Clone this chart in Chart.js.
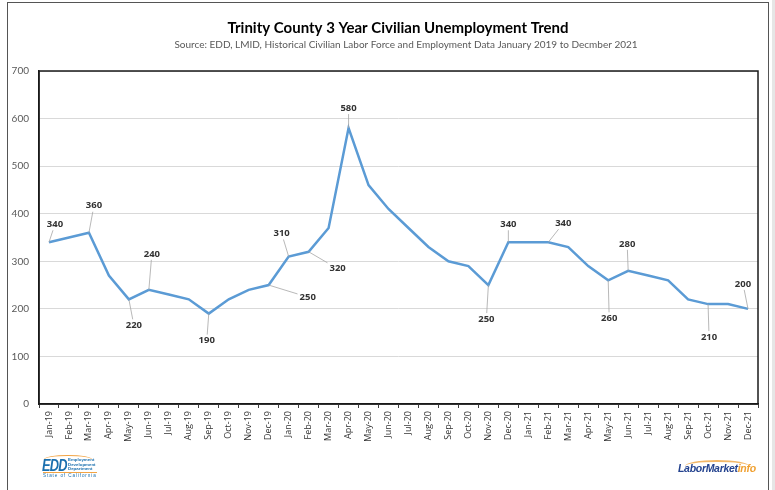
<!DOCTYPE html>
<html>
<head>
<meta charset="utf-8">
<script src="https://cdn.jsdelivr.net/npm/chart.js@4.4.1/dist/chart.umd.min.js"></script>
<style>
  html, body { margin: 0; padding: 0; background: #fff; }
  #wrap { position: absolute; left: 0; top: 0; width: 775px; height: 490px; }
  .frame { position: absolute; left: 7px; top: 2px; width: 762px; height: 520px;
           border: 1.5px solid #555; box-sizing: border-box; pointer-events: none; }
  .side { position: absolute; left: 772px; top: 0; width: 3px; height: 490px; background: #e6e6e6; }
  .edd { position: absolute; left: 42px; top: 453px; width: 56px; height: 26px; }
  .edd .big { position: absolute; left: 0; top: 4px; font: italic bold 16px "Liberation Sans", sans-serif;
              color: #1a6fae; letter-spacing: -1px; transform: scaleX(0.8); transform-origin: left top; }
  .edd .swoosh { position: absolute; left: 2px; top: 2px; width: 48px; height: 8px;
                 border-top: 1.5px solid #f2a444; border-radius: 50%; }
  .edd .small { position: absolute; left: 26px; top: 5px; font: bold 4.4px "Liberation Sans", sans-serif;
                color: #1a6fae; line-height: 4.6px; }
  .edd .state { position: absolute; left: 1px; top: 19px; font: 4.6px "Liberation Sans", sans-serif;
                color: #1a6fae; letter-spacing: 0.9px; border-top: 0.8px solid #f2a444; white-space: nowrap; }
  .lmi { position: absolute; left: 677px; top: 459px; width: 80px; height: 16px; }
  .lmi .arc { position: absolute; left: 8px; top: 1px; width: 64px; height: 10px;
              border-top: 2px solid #f3b766; border-radius: 50%; }
  .lmi .txt { position: absolute; left: 1px; top: 3px; font: italic bold 10.5px "Liberation Sans", sans-serif;
              color: #24438f; letter-spacing: -0.3px; white-space: nowrap; }
  .lmi .txt span { color: #f0a030; }
</style>
</head>
<body>
<div id="wrap"><canvas id="chart"></canvas></div>
<div class="side"></div>
<div class="frame"></div>
<div class="edd">
  <div class="swoosh"></div>
  <div class="big">EDD</div>
  <div class="small">Employment<br>Development<br>Department</div>
  <div class="state">State of California</div>
</div>
<div class="lmi"><div class="arc"></div><div class="txt">LaborMarket<span>info</span></div></div>
<script>
// Trinity County civilian unemployment, Jan 2019 - Dec 2021

const titleText = 'Trinity County 3 Year Civilian Unemployment Trend';
const subtitleText = 'Source: EDD, LMID, Historical Civilian Labor Force and Employment Data January 2019 to Decmber 2021';

const months = [
  'Jan-19', 'Feb-19', 'Mar-19', 'Apr-19', 'May-19', 'Jun-19', 'Jul-19', 'Aug-19', 'Sep-19', 'Oct-19', 'Nov-19', 'Dec-19',
  'Jan-20', 'Feb-20', 'Mar-20', 'Apr-20', 'May-20', 'Jun-20', 'Jul-20', 'Aug-20', 'Sep-20', 'Oct-20', 'Nov-20', 'Dec-20',
  'Jan-21', 'Feb-21', 'Mar-21', 'Apr-21', 'May-21', 'Jun-21', 'Jul-21', 'Aug-21', 'Sep-21', 'Oct-21', 'Nov-21', 'Dec-21',
];

const unemployed = [
  340, 350, 360, 270, 220, 240, 230, 220, 190, 220, 240, 250,
  310, 320, 370, 580, 460, 410, 370, 330, 300, 290, 250, 340,
  340, 340, 330, 290, 260, 280, 270, 260, 220, 210, 210, 200,
];

const yTicks = [0, 100, 200, 300, 400, 500, 600, 700];

// which points get a value label, and where the label sits (px from the point)
const labelOffsets = {
  0: [6, -18], 2: [5, -27], 4: [5, 26], 5: [3, -36], 8: [-2, 27], 11: [39, 12],
  12: [-7, -23], 13: [29, 17], 15: [0, -20], 22: [-2, 34], 23: [0, -18], 25: [15, -19],
  28: [1, 38], 29: [-1, -27], 33: [1, 33], 35: [-5, -25],
};

const FONT = 'Lato, "Open Sans", sans-serif';

const headings = {
  id: 'headings',
  afterDraw(chart) {
    const ctx = chart.ctx;
    ctx.save();
    ctx.textAlign = 'center';
    ctx.textBaseline = 'middle';
    ctx.fillStyle = '#000';
    ctx.font = 'bold 15px ' + FONT;
    ctx.fillText(titleText, 398, 28);
    ctx.fillStyle = '#595959';
    ctx.font = '10px ' + FONT;
    ctx.fillText(subtitleText, 406, 45);
    ctx.restore();
  },
};

const plotFrame = {
  id: 'plotFrame',
  beforeDatasetsDraw(chart) {
    const a = chart.chartArea;
    const ctx = chart.ctx;
    ctx.save();
    ctx.strokeStyle = '#1a1a1a';
    ctx.lineWidth = 1.5;
    ctx.strokeRect(a.left, a.top, a.right - a.left, a.bottom - a.top);
    ctx.restore();
  },
};

const valueLabels = {
  id: 'valueLabels',
  afterDatasetsDraw(chart) {
    const ctx = chart.ctx;
    const meta = chart.getDatasetMeta(0);
    ctx.save();
    ctx.font = 'bold 9.5px "Open Sans", sans-serif';
    ctx.textAlign = 'center';
    ctx.textBaseline = 'middle';
    Object.keys(labelOffsets).forEach((k) => {
      const i = Number(k);
      const pt = meta.data[i];
      if (!pt) return;
      const [ox, oy] = labelOffsets[k];
      const cx = pt.x + ox, cy = pt.y + oy;
      const txt = String(unemployed[i]);
      const hw = ctx.measureText(txt).width / 2 + 2;
      const hh = 6;
      const dx = cx - pt.x, dy = cy - pt.y;
      const tx = dx === 0 ? Infinity : hw / Math.abs(dx);
      const ty = dy === 0 ? Infinity : hh / Math.abs(dy);
      const t = Math.min(tx, ty, 1);
      ctx.strokeStyle = '#a6a6a6';
      ctx.lineWidth = 0.8;
      ctx.beginPath();
      ctx.moveTo(pt.x, pt.y);
      ctx.lineTo(cx - dx * t, cy - dy * t);
      ctx.stroke();
      ctx.fillStyle = '#333';
      ctx.fillText(txt, cx, cy);
    });
    ctx.restore();
  },
};

const ctx = document.getElementById('chart').getContext('2d');

new Chart(ctx, {
  type: 'line',
  data: {
    labels: months,
    datasets: [{
      label: 'Unemployment',
      data: unemployed,
      borderColor: '#5b9bd5',
      backgroundColor: 'rgba(0,0,0,0)',
      borderWidth: 2.5,
      pointRadius: 0,
      tension: 0,
    }],
  },
  options: {
    animation: false,
    responsive: true,
    maintainAspectRatio: false,
    layout: { padding: { left: 9, right: 17, top: 71, bottom: 48 } },
    scales: {
      x: {
        offset: true,
        grid: { drawOnChartArea: false, offset: true, tickLength: 4, color: '#404040', lineWidth: 1 },
        border: { color: '#1a1a1a', width: 1.5 },
        ticks: {
          autoSkip: false, minRotation: 90, maxRotation: 90, padding: 3,
          color: '#333', font: { family: '"Open Sans", sans-serif', size: 9 },
        },
        afterFit(scale) { scale.height = 38; },
      },
      y: {
        min: 0,
        max: 700,
        afterBuildTicks(scale) { scale.ticks = yTicks.map((v) => ({ value: v })); },
        grid: { color: '#d9d9d9', lineWidth: 1, drawTicks: false },
        border: { color: '#1a1a1a', width: 1.5 },
        ticks: { padding: 10, color: '#595959', font: { family: FONT, size: 10 } },
        afterFit(scale) { scale.width = 30; },
      },
    },
    plugins: {
      legend: { display: false },
      tooltip: { enabled: false },
    },
  },
  plugins: [plotFrame, valueLabels, headings],
});
</script>
</body>
</html>
